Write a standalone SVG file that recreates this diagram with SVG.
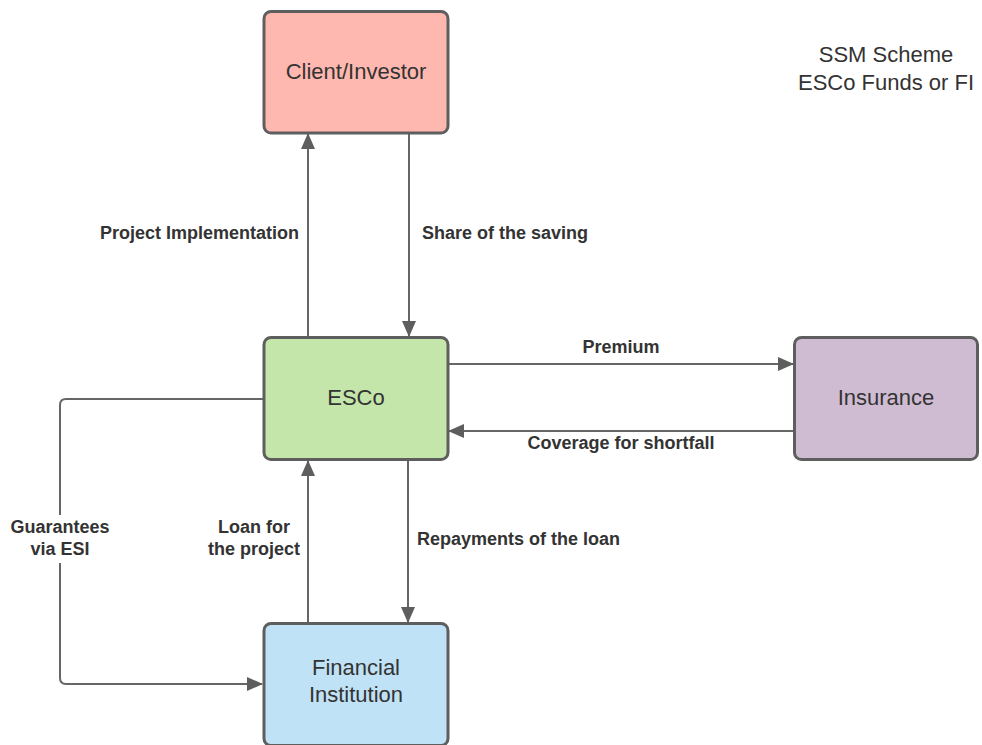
<svg xmlns="http://www.w3.org/2000/svg" width="982" height="745" viewBox="0 0 982 745">
<style>
.box{stroke:#5e5e5e;stroke-width:3}
.nt{font-family:"Liberation Sans",Arial,sans-serif;font-size:22px;fill:#333;text-anchor:middle}
.lb{font-family:"Liberation Sans",Arial,sans-serif;font-size:18px;font-weight:bold;fill:#333}
.ln{fill:none;stroke:#666;stroke-width:2}
</style>
<defs>
<marker id="ah" markerWidth="16" markerHeight="14" refX="15" refY="7" orient="auto" markerUnits="userSpaceOnUse">
<path d="M0,0 L16,7 L0,14 Z" fill="#5e5e5e"/>
</marker>
</defs>
<rect width="982" height="745" fill="#fff"/>
<g id="connectors">
<path class="ln" d="M308,337 V134" marker-end="url(#ah)"/>
<path class="ln" d="M409,133 V336" marker-end="url(#ah)"/>
<path class="ln" d="M448,364 H793" marker-end="url(#ah)"/>
<path class="ln" d="M794,431 H449" marker-end="url(#ah)"/>
<path class="ln" d="M308,623 V461" marker-end="url(#ah)"/>
<path class="ln" d="M408,460 V622" marker-end="url(#ah)"/>
<path class="ln" d="M263,399 H66 Q60,399 60,405 V515 M60,563 V678 Q60,684 66,684 H262" marker-end="url(#ah)"/>
<text class="lb" x="299" y="239" text-anchor="end">Project Implementation</text>
<text class="lb" x="422" y="239">Share of the saving</text>
<text class="lb" x="621" y="353" text-anchor="middle">Premium</text>
<text class="lb" x="621" y="449" text-anchor="middle">Coverage for shortfall</text>
<text class="lb" x="60" y="533" text-anchor="middle">Guarantees</text>
<text class="lb" x="60" y="555" text-anchor="middle">via ESI</text>
<text class="lb" x="254" y="533" text-anchor="middle">Loan for</text>
<text class="lb" x="254" y="555" text-anchor="middle">the project</text>
<text class="lb" x="417" y="545">Repayments of the loan</text>
</g>
<g id="client">
<rect class="box" x="264" y="11.5" width="184" height="121.5" rx="7" fill="#ffb8af"/>
<text class="nt" x="356" y="79">Client/Investor</text>
</g>
<g id="esco">
<rect class="box" x="264" y="337.5" width="184" height="122" rx="7" fill="#c5e6aa"/>
<text class="nt" x="356" y="405">ESCo</text>
</g>
<g id="insurance">
<rect class="box" x="794.5" y="337.5" width="183" height="122" rx="7" fill="#d0bcd2"/>
<text class="nt" x="886" y="405">Insurance</text>
</g>
<g id="fi">
<rect class="box" x="264" y="623.5" width="184" height="122" rx="7" fill="#c0e2f6"/>
<text class="nt" x="356" y="675">Financial</text>
<text class="nt" x="356" y="702">Institution</text>
</g>
<g id="title">
<text class="nt" x="886" y="62">SSM Scheme</text>
<text class="nt" x="886" y="90">ESCo Funds or FI</text>
</g>
</svg>
